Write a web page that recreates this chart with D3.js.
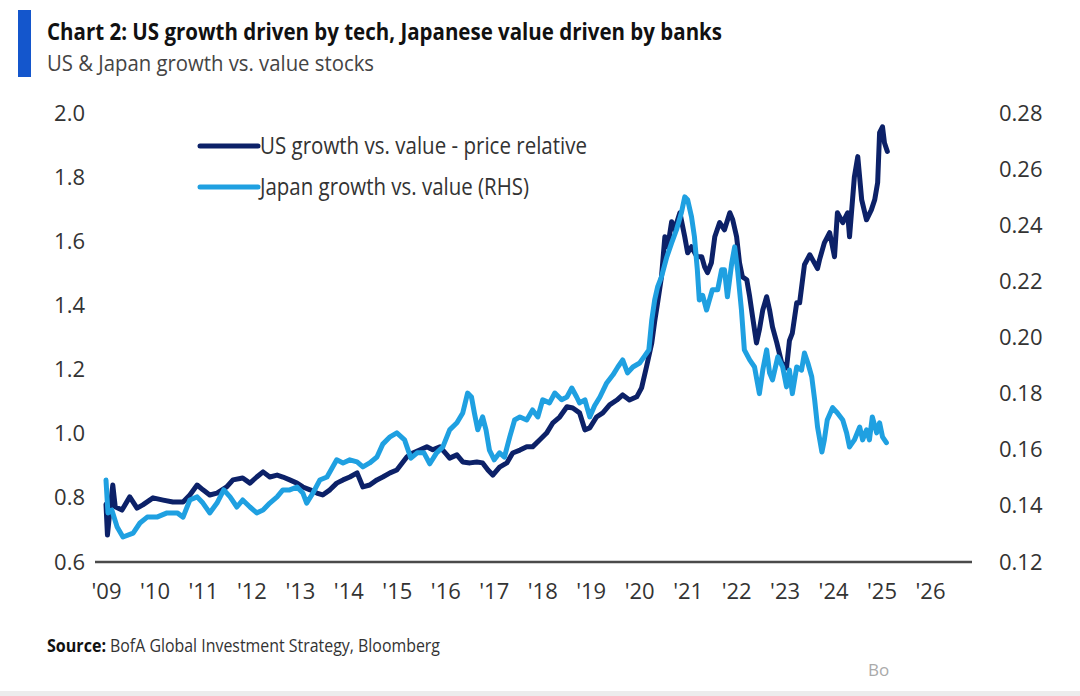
<!DOCTYPE html>
<html><head><meta charset="utf-8">
<script src="https://cdn.jsdelivr.net/npm/d3@7"></script>
<style>html,body{margin:0;padding:0;background:#fff;}svg{display:block;font-family:"Open Sans","Noto Sans",sans-serif;}</style>
</head><body>
<svg id="chart" width="1080" height="696"></svg>
<script>
// ---------- DATA ----------
const titleText = "Chart 2: US growth driven by tech, Japanese value driven by banks";
const subtitleText = "US & Japan growth vs. value stocks";
const seriesNames = ["US growth vs. value - price relative", "Japan growth vs. value (RHS)"];
const leftTicks = [0.6, 0.8, 1.0, 1.2, 1.4, 1.6, 1.8, 2.0];
const rightTicks = [0.12, 0.14, 0.16, 0.18, 0.20, 0.22, 0.24, 0.26, 0.28];
const xTickYears = [2009,2010,2011,2012,2013,2014,2015,2016,2017,2018,2019,2020,2021,2022,2023,2024,2025,2026];
const xTickLabels = ["'09","'10","'11","'12","'13","'14","'15","'16","'17","'18","'19","'20","'21","'22","'23","'24","'25","'26"];

// US growth vs value (left axis), decimal year
const usDates = [2009.00,2009.03,2009.08,2009.14,2009.19,2009.33,2009.49,2009.64,2009.76,2009.97,
2010.18,2010.38,2010.59,2010.73,2010.88,2011.00,2011.14,2011.29,2011.49,2011.62,2011.82,2011.97,
2012.11,2012.24,2012.38,2012.53,2012.65,2012.79,2012.94,2013.06,2013.21,2013.35,2013.47,2013.62,2013.76,2013.89,
2014.03,2014.18,2014.30,2014.44,2014.59,2014.71,2014.86,2015.00,2015.21,2015.33,2015.47,2015.62,2015.74,2015.89,
2016.03,2016.09,2016.24,2016.36,2016.51,2016.65,2016.77,2016.88,2016.98,2017.12,2017.27,2017.39,2017.54,2017.68,2017.80,2017.95,
2018.09,2018.22,2018.36,2018.51,2018.63,2018.77,2018.88,2018.98,2019.12,2019.25,2019.39,2019.54,2019.66,2019.80,2019.95,
2020.05,2020.15,2020.26,2020.32,2020.38,2020.46,2020.53,2020.59,2020.67,2020.73,2020.84,2020.94,
2021.00,2021.08,2021.19,2021.29,2021.35,2021.41,2021.49,2021.56,2021.66,2021.76,2021.87,2021.93,
2022.01,2022.07,2022.13,2022.22,2022.28,2022.34,2022.42,2022.48,2022.55,2022.63,2022.69,2022.75,2022.84,2022.94,
2023.04,2023.10,2023.16,2023.25,2023.31,2023.41,2023.52,2023.58,2023.68,2023.72,2023.82,2023.93,
2024.03,2024.09,2024.20,2024.30,2024.34,2024.44,2024.51,2024.59,2024.69,2024.79,2024.86,2024.92,2024.96,2025.02,2025.06,2025.12];
const usValues = [0.78,0.684,0.76,0.840,0.772,0.762,0.803,0.768,0.778,0.800,
0.793,0.787,0.787,0.809,0.840,0.825,0.809,0.815,0.834,0.856,0.862,0.846,
0.865,0.881,0.865,0.871,0.865,0.856,0.846,0.834,0.825,0.815,0.809,0.825,0.846,0.856,
0.865,0.878,0.834,0.840,0.856,0.865,0.878,0.887,0.928,0.940,0.949,0.959,0.950,0.959,
0.935,0.924,0.934,0.912,0.909,0.912,0.909,0.887,0.871,0.896,0.909,0.940,0.949,0.959,0.959,0.981,
1.002,1.034,1.052,1.084,1.080,1.065,1.012,1.018,1.052,1.065,1.090,1.105,1.121,1.105,1.115,
1.143,1.208,1.283,1.350,1.408,1.489,1.614,1.583,1.661,1.636,1.689,1.614,
1.564,1.583,1.552,1.552,1.520,1.502,1.533,1.614,1.658,1.636,1.689,1.667,
1.614,1.533,1.489,1.480,1.427,1.364,1.283,1.324,1.386,1.427,1.386,1.333,1.283,1.221,
1.205,1.290,1.314,1.408,1.408,1.527,1.558,1.542,1.515,1.542,1.595,1.627,
1.552,1.689,1.658,1.689,1.614,1.801,1.864,1.730,1.667,1.698,1.730,1.783,1.939,1.957,1.907,1.880];

// Japan growth vs value (right axis)
const jpDates = [2009.00,2009.04,2009.12,2009.23,2009.35,2009.56,2009.70,2009.85,2010.05,2010.26,2010.47,2010.59,2010.73,2010.88,
2011.00,2011.14,2011.29,2011.43,2011.56,2011.70,2011.82,2011.97,2012.11,2012.24,2012.38,2012.53,2012.65,2012.79,2012.94,
2013.06,2013.14,2013.27,2013.41,2013.56,2013.76,2013.89,2014.03,2014.18,2014.30,2014.44,2014.59,2014.71,2014.86,
2015.00,2015.16,2015.29,2015.42,2015.56,2015.68,2015.82,2015.95,2016.09,2016.24,2016.36,2016.46,2016.54,2016.60,2016.67,2016.77,2016.84,2016.91,
2017.01,2017.12,2017.22,2017.33,2017.43,2017.54,2017.68,2017.80,2017.91,2018.01,2018.15,2018.26,2018.40,2018.51,2018.61,2018.71,2018.77,2018.88,2018.98,
2019.08,2019.19,2019.33,2019.46,2019.56,2019.66,2019.76,2019.87,2020.01,2020.10,2020.20,2020.26,2020.32,2020.38,2020.46,2020.57,2020.67,2020.77,2020.87,2020.94,
2021.00,2021.08,2021.14,2021.20,2021.24,2021.31,2021.39,2021.45,2021.51,2021.62,2021.70,2021.76,2021.82,2021.91,2021.97,
2022.03,2022.11,2022.17,2022.28,2022.38,2022.48,2022.55,2022.63,2022.69,2022.75,2022.86,2022.96,
2023.04,2023.10,2023.16,2023.25,2023.35,2023.41,2023.48,2023.56,2023.62,2023.68,2023.77,2023.82,2023.88,2023.99,
2024.09,2024.20,2024.28,2024.34,2024.44,2024.55,2024.61,2024.69,2024.75,2024.81,2024.90,2024.96,2025.02,2025.10];
const jpValues = [0.1492,0.1375,0.1385,0.1325,0.1289,0.1303,0.1339,0.1360,0.1360,0.1375,0.1375,0.1360,0.1421,0.1432,
0.1410,0.1375,0.1410,0.1457,0.1432,0.1396,0.1421,0.1396,0.1375,0.1385,0.1410,0.1432,0.1457,0.1457,0.1467,
0.1446,0.1410,0.1446,0.1492,0.1503,0.1564,0.1553,0.1564,0.1557,0.1539,0.1553,0.1574,0.1620,0.1646,
0.1660,0.1635,0.1570,0.1589,0.1589,0.1550,0.1589,0.1610,0.1671,0.1696,0.1731,0.1802,0.1788,0.1731,0.1671,0.1717,0.1671,0.1599,
0.1564,0.1589,0.1574,0.1646,0.1706,0.1717,0.1706,0.1742,0.1717,0.1778,0.1767,0.1802,0.1778,0.1788,0.1820,0.1788,0.1767,0.1778,0.1717,
0.1757,0.1788,0.1838,0.1867,0.1895,0.1920,0.1874,0.1895,0.1909,0.1931,0.1956,0.2063,0.2134,0.2180,0.2216,0.2287,0.2337,0.2384,0.2444,0.2501,
0.2491,0.2430,0.2359,0.2241,0.2134,0.2150,0.2098,0.2134,0.2170,0.2170,0.2241,0.2241,0.2145,0.2266,0.2323,
0.2241,0.2098,0.1956,0.1920,0.1895,0.1800,0.1884,0.1956,0.1874,0.1849,0.1931,0.1895,
0.1824,0.1884,0.1800,0.1895,0.1884,0.1945,0.1909,0.1860,0.1778,0.1681,0.1592,0.1635,0.1706,0.1750,
0.1731,0.1706,0.1660,0.1610,0.1635,0.1681,0.1635,0.1671,0.1635,0.1717,0.1660,0.1696,0.1646,0.1625];

// ---------- DRAW ----------
const usColor = "#0c2168", jpColor = "#1fa0e1", tickColor = "#333";
const svg = d3.select("#chart");
svg.append("rect").attr("width",1080).attr("height",696).attr("fill","#fff");
svg.append("rect").attr("x",0).attr("y",691).attr("width",1080).attr("height",5).attr("fill","#ececec");

// header
svg.append("rect").attr("x",18).attr("y",10).attr("width",13).attr("height",67).attr("fill","#1456cc");
svg.append("text").attr("x",47).attr("y",40).attr("font-size",24).attr("font-weight",700).attr("fill","#111")
  .attr("textLength",675).attr("lengthAdjust","spacingAndGlyphs").text(titleText);
svg.append("text").attr("x",47).attr("y",71).attr("font-size",22).attr("fill","#444")
  .attr("textLength",327).attr("lengthAdjust","spacingAndGlyphs").text(subtitleText);

const x = d3.scaleLinear().domain([2009, 2026]).range([106, 930]);
const yL = d3.scaleLinear().domain([0.6, 2.0]).range([562, 113]);
const yR = d3.scaleLinear().domain([0.12, 0.28]).range([562, 113]);

function styleAxis(g){
  g.select(".domain").remove();
  g.selectAll("text").attr("fill",tickColor).attr("font-size",22).attr("font-family",'"Open Sans",sans-serif');
}
svg.append("g").attr("transform","translate(88,0)")
  .call(d3.axisLeft(yL).tickValues(leftTicks).tickSize(0).tickPadding(3).tickFormat(d3.format(".1f")))
  .call(styleAxis);
svg.append("g").attr("transform","translate(996,0)")
  .call(d3.axisRight(yR).tickValues(rightTicks).tickSize(0).tickPadding(3).tickFormat(d3.format(".2f")))
  .call(styleAxis);
svg.append("g").attr("transform","translate(0,562)")
  .call(d3.axisBottom(x).tickValues(xTickYears).tickSize(0).tickPadding(21).tickFormat((d,i)=>xTickLabels[i]))
  .call(styleAxis);
svg.append("line").attr("x1",95).attr("x2",972).attr("y1",562).attr("y2",562)
  .attr("stroke","#4a4a4a").attr("stroke-width",2.5);

// lines
const usData = usDates.map((d,i)=>[d, usValues[i]]);
const jpData = jpDates.map((d,i)=>[d, jpValues[i]]);
svg.append("path").datum(usData).attr("fill","none").attr("stroke",usColor).attr("stroke-width",5)
  .attr("stroke-linejoin","round").attr("stroke-linecap","round").attr("d", d3.line().x(d=>x(d[0])).y(d=>yL(d[1])));
svg.append("path").datum(jpData).attr("fill","none").attr("stroke",jpColor).attr("stroke-width",5)
  .attr("stroke-linejoin","round").attr("stroke-linecap","round").attr("d", d3.line().x(d=>x(d[0])).y(d=>yR(d[1])));

// legend
const legend = [{name:seriesNames[0], color:usColor, y:146, w:327},{name:seriesNames[1], color:jpColor, y:187, w:269}];
legend.forEach(l=>{
  svg.append("line").attr("x1",200).attr("x2",258).attr("y1",l.y).attr("y2",l.y)
    .attr("stroke",l.color).attr("stroke-width",5).attr("stroke-linecap","round");
  svg.append("text").attr("x",260).attr("y",l.y).attr("dy","0.36em").attr("font-size",23).attr("fill","#333")
    .attr("textLength",l.w).attr("lengthAdjust","spacingAndGlyphs").text(l.name);
});

// source
svg.append("text").attr("x",47).attr("y",652).attr("font-size",18).attr("font-weight",700).attr("fill","#111")
  .attr("textLength",59).attr("lengthAdjust","spacingAndGlyphs").text("Source:");
svg.append("text").attr("x",110).attr("y",652).attr("font-size",18).attr("fill","#333")
  .attr("textLength",330).attr("lengthAdjust","spacingAndGlyphs").text("BofA Global Investment Strategy, Bloomberg");
svg.append("text").attr("x",868).attr("y",676).attr("font-size",17).attr("fill","#aaa").text("Bo");
</script>
</body></html>
